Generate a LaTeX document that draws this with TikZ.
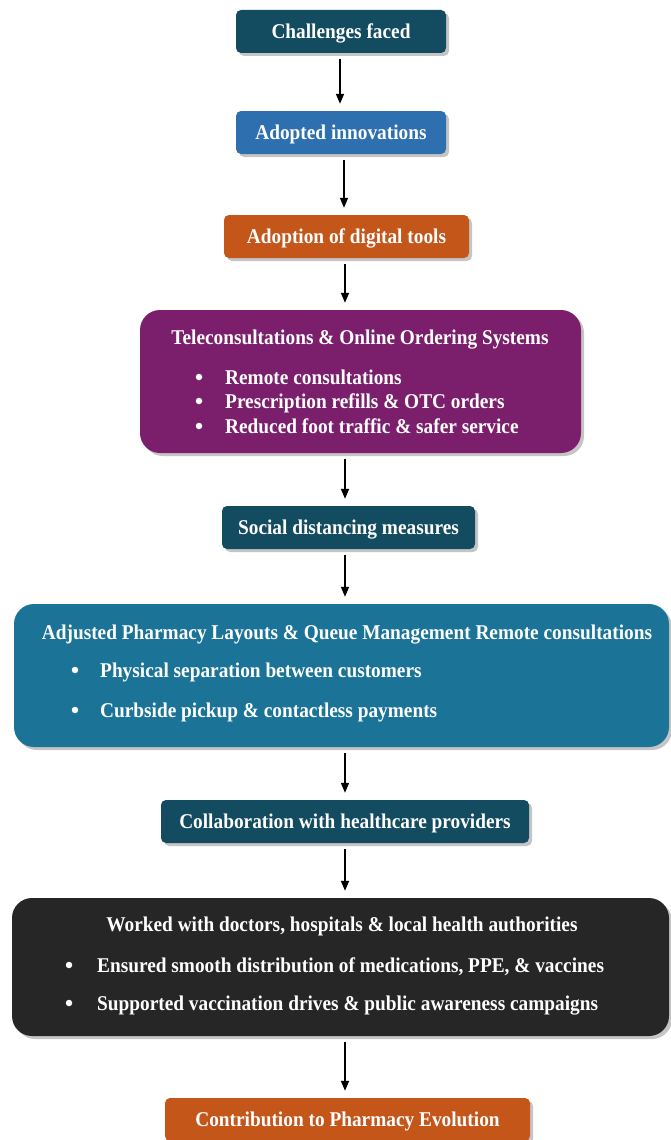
\documentclass[tikz,border=0pt]{standalone}
\usepackage{fontspec}
\setmainfont{Liberation Serif}[FakeStretch=0.92]
\usetikzlibrary{arrows.meta,shadows,calc}
\definecolor{dteal}{HTML}{134B60}
\definecolor{cblue}{HTML}{2E6FB0}
\definecolor{corange}{HTML}{C4561A}
\definecolor{cpurple}{HTML}{7B1F6C}
\definecolor{cteal}{HTML}{1B7497}
\definecolor{cblack}{HTML}{262626}
\tikzset{
  shad/.style={drop shadow={shadow xshift=3pt,shadow yshift=-3pt,fill=black!45,opacity=.5}},
  smallbox/.style={rectangle,rounded corners=5pt,minimum height=43pt,inner sep=0pt,shad,
    text=white,font=\fontsize{21}{24}\selectfont\bfseries,text height=18pt,text depth=4pt},
  bigbox/.style={rectangle,rounded corners=20pt,inner sep=0pt,shad},
  txt/.style={text=white,font=\fontsize{21}{24}\selectfont\bfseries,inner sep=0pt,text height=18pt,text depth=4pt},
  dot/.style={circle,fill=white,minimum size=6.5pt,inner sep=0pt},
  arr/.style={-{Triangle[length=10pt,width=8pt]},line width=1.6pt,black,shorten <=6pt,shorten >=7pt}
}
\begin{document}
\begin{tikzpicture}[x=1pt,y=-1pt]
\useasboundingbox[fill=white] (0,0) rectangle (670,1140);
\coordinate (col) at (345,0);
\coordinate (colA) at (340,0);
\coordinate (colB) at (344,0);

\node[smallbox,fill=dteal,minimum width=210pt] (b1) at (341,31.5) {Challenges faced};
\node[smallbox,fill=cblue,minimum width=210pt] (b2) at (341,132.5) {Adopted innovations};
\node[smallbox,fill=corange,minimum width=245pt] (b3) at (346.5,236.5) {Adoption of digital tools};

\node[bigbox,fill=cpurple,minimum width=441pt,minimum height=143pt] (b4) at (360.5,381.5) {};
\node[txt] (t4) at (360,337) {Teleconsultations \& Online Ordering Systems};
\node[dot] (d41) at (199,377) {};
\node[txt,anchor=west] (t41) at (225,377) {Remote consultations};
\node[dot] (d42) at (199,401) {};
\node[txt,anchor=west] (t42) at (225,401) {Prescription refills \& OTC orders};
\node[dot] (d43) at (199,426) {};
\node[txt,anchor=west] (t43) at (225,426) {Reduced foot traffic \& safer service};

\node[smallbox,fill=dteal,minimum width=253pt] (b5) at (348.5,527.5) {Social distancing measures};

\node[bigbox,fill=cteal,minimum width=655pt,minimum height=143pt] (b6) at (341.5,675.5) {};
\node[txt] (t6) at (347,632) {Adjusted Pharmacy Layouts \& Queue Management Remote consultations};
\node[dot] (d61) at (75,670) {};
\node[txt,anchor=west] (t61) at (100,670) {Physical separation between customers};
\node[dot] (d62) at (75,710) {};
\node[txt,anchor=west] (t62) at (100,710) {Curbside pickup \& contactless payments};

\node[smallbox,fill=dteal,minimum width=368pt] (b7) at (345,821.5) {Collaboration with healthcare providers};

\node[bigbox,fill=cblack,minimum width=657pt,minimum height=138pt] (b8) at (340.5,967) {};
\node[txt] (t8) at (342,924) {Worked with doctors, hospitals \& local health authorities};
\node[dot] (d81) at (69,965) {};
\node[txt,anchor=west] (t81) at (97,965) {Ensured smooth distribution of medications, PPE, \& vaccines};
\node[dot] (d82) at (69,1003) {};
\node[txt,anchor=west] (t82) at (97,1003) {Supported vaccination drives \& public awareness campaigns};

\node[smallbox,fill=corange,minimum width=365pt] (b9) at (347.5,1119.5) {Contribution to Pharmacy Evolution};

\draw[arr] (b1.south -| colA) -- (b2.north -| colA);
\draw[arr] (b2.south -| colB) -- (b3.north -| colB);
\draw[arr] (b3.south -| col) -- (b4.north -| col);
\draw[arr] (b4.south -| col) -- (b5.north -| col);
\draw[arr] (b5.south -| col) -- (b6.north -| col);
\draw[arr] (b6.south -| col) -- (b7.north -| col);
\draw[arr] (b7.south -| col) -- (b8.north -| col);
\draw[arr] (b8.south -| col) -- (b9.north -| col);
\end{tikzpicture}
\end{document}
